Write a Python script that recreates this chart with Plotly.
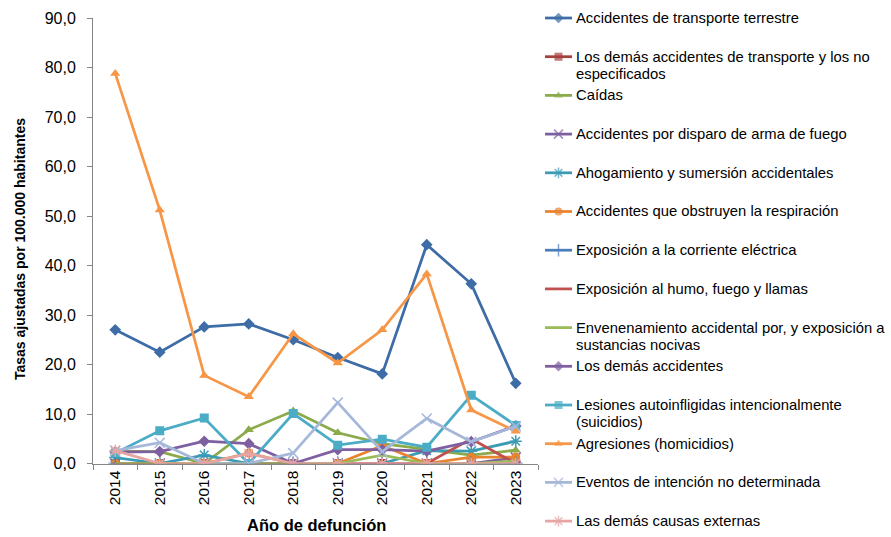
import plotly.graph_objects as go

# Años de defunción (eje de categorías)
years = ["2014", "2015", "2016", "2017", "2018", "2019", "2020", "2021", "2022", "2023"]

# Tasas ajustadas por 100.000 habitantes, por causa externa
transporte_terrestre = [27.0, 22.5, 27.6, 28.2, 25.0, 21.4, 18.1, 44.2, 36.3, 16.2]
demas_transporte = [0.0, 0.0, 0.0, 0.0, 0.0, 0.0, 0.0, 0.0, 0.0, 0.0]
caidas = [2.5, 2.4, 0.0, 6.8, 10.6, 6.2, 4.0, 2.8, 1.7, 2.7]
arma_fuego = [0.0, 0.0, 0.0, 0.0, 0.0, 0.0, 0.0, 0.0, 0.0, 1.2]
ahogamiento = [1.2, 0.0, 1.7, 0.0, 0.0, 0.0, 0.0, 2.6, 2.5, 4.5]
obstruyen_respiracion = [0.0, 0.0, 0.0, 2.1, 0.0, 0.0, 3.6, 0.0, 1.3, 1.3]
corriente_electrica = [0.0, 0.0, 0.0, 0.0, 0.0, 0.0, 0.0, 0.0, 0.0, 0.0]
humo_fuego = [0.0, 0.0, 0.0, 0.0, 0.0, 0.0, 0.0, 0.0, 5.0, 0.0]
envenenamiento = [0.0, 0.0, 0.0, 0.0, 0.0, 0.0, 1.7, 0.0, 0.0, 0.5]
demas_accidentes = [2.3, 2.4, 4.5, 4.0, 0.0, 2.8, 2.8, 2.5, 4.4, 7.6]
suicidios = [2.1, 6.6, 9.2, 0.0, 10.1, 3.7, 4.9, 3.3, 13.8, 7.7]
homicidios = [78.8, 51.2, 17.8, 13.5, 26.2, 20.3, 27.0, 38.3, 10.8, 6.5]
intencion_no_determinada = [2.6, 4.2, 0.0, 0.0, 2.1, 12.3, 2.4, 9.1, 4.4, 7.5]
demas_causas = [2.6, 0.0, 0.0, 2.0, 0.0, 0.0, 0.0, 0.0, 0.0, 0.0]

series = [
    (["Accidentes de transporte terrestre"], transporte_terrestre, "#3D6CA6", "diamond"),
    (["Los demás accidentes de transporte y los no", "especificados"], demas_transporte, "#A6403D", "square"),
    (["Caídas"], caidas, "#8BAB4B", "triangle-up"),
    (["Accidentes por disparo de arma de fuego"], arma_fuego, "#7D5FA0", "x-thin"),
    (["Ahogamiento y sumersión accidentales"], ahogamiento, "#3B9BB5", "asterisk"),
    (["Accidentes que obstruyen la respiración"], obstruyen_respiracion, "#E8832F", "circle"),
    (["Exposición a la corriente eléctrica"], corriente_electrica, "#4A7EBB", "cross-thin"),
    (["Exposición al humo, fuego y llamas"], humo_fuego, "#C0504D", None),
    (["Envenenamiento accidental por, y exposición a", "sustancias nocivas"], envenenamiento, "#9BBB59", None),
    (["Los demás accidentes"], demas_accidentes, "#7E5FA0", "diamond"),
    (["Lesiones autoinfligidas intencionalmente", "(suicidios)"], suicidios, "#4BACC6", "square"),
    (["Agresiones (homicidios)"], homicidios, "#F79646", "triangle-up"),
    (["Eventos de intención no determinada"], intencion_no_determinada, "#A6B8DA", "x-thin"),
    (["Las demás causas externas"], demas_causas, "#E6A5A3", "asterisk"),
]

W, H = 891, 537
PLOT_L, PLOT_R, PLOT_T, PLOT_B = 93, 538, 18, 463.5

# Legend layout (pixels)
LEG_X0, LEG_X1, LEG_TEXT_X = 545, 572, 574
LEG_Y0, LEG_STEP, LEG_LINE_H = 18, 38.7, 17
LEG_FONT = 14.8


def marker_style(symbol, color, size):
    thin = symbol in ("x-thin", "cross-thin", "asterisk")
    return dict(symbol=symbol, size=size + (1 if thin else 0), color=color,
                line=dict(color=color, width=1.5 if thin else 0))


fig = go.Figure()
for lines, values, color, symbol in series:
    fig.add_trace(go.Scatter(
        x=years, y=values, name=" ".join(lines),
        mode="lines" if symbol is None else "lines+markers",
        line=dict(color=color, width=2.75),
        marker=None if symbol is None else marker_style(symbol, color, 9),
        showlegend=False,
        xaxis="x", yaxis="y",
    ))

# Hand-built legend: key samples on a pixel-space overlay axis, labels as annotations
annotations = []
for i, (lines, values, color, symbol) in enumerate(series):
    yc = LEG_Y0 + i * LEG_STEP
    key_x = [LEG_X0, (LEG_X0 + LEG_X1) / 2, LEG_X1]
    key = dict(
        x=key_x, y=[yc, yc, yc],
        mode="lines" if symbol is None else "lines+markers",
        line=dict(color=color, width=2.75),
        showlegend=False, hoverinfo="skip",
        xaxis="x2", yaxis="y2",
    )
    if symbol is not None:
        m = marker_style(symbol, color, 8)
        m["size"] = [0, m["size"], 0]
        key["marker"] = m
    fig.add_trace(go.Scatter(**key))
    for j, text in enumerate(lines):
        annotations.append(dict(
            text=text, xref="paper", yref="paper",
            x=LEG_TEXT_X / W, y=1 - (yc + j * LEG_LINE_H) / H,
            xanchor="left", yanchor="middle", showarrow=False,
            font=dict(size=LEG_FONT, color="#000000"),
        ))

# Axis titles
annotations.append(dict(
    text="<b>Tasas ajustadas por 100.000 habitantes</b>", xref="paper", yref="paper",
    x=20 / W, y=1 - 249 / H, xanchor="center", yanchor="middle", textangle=-90,
    showarrow=False, font=dict(size=14, color="#000000"),
))
annotations.append(dict(
    text="<b>Año de defunción</b>", xref="paper", yref="paper",
    x=316 / W, y=1 - 525 / H, xanchor="center", yanchor="middle",
    showarrow=False, font=dict(size=16.5, color="#000000"),
))

axis_color = "#868686"
fig.update_layout(
    width=W, height=H,
    margin=dict(l=0, r=0, t=0, b=0, pad=0, autoexpand=False),
    paper_bgcolor="white", plot_bgcolor="rgba(0,0,0,0)",
    separators=",.",
    font=dict(family="Liberation Sans, Arial, sans-serif", color="#000000"),
    showlegend=False,
    annotations=annotations,
    xaxis=dict(
        domain=[PLOT_L / W, PLOT_R / W], anchor="y",
        type="category", automargin=False,
        range=[-0.5, len(years) - 0.5],
        showline=True, linecolor=axis_color, linewidth=1,
        ticks="outside", tickson="boundaries", ticklen=5, tickcolor=axis_color,
        tickangle=-90,
        tickfont=dict(size=15.5),
        showgrid=False, zeroline=False,
    ),
    yaxis=dict(
        domain=[1 - PLOT_B / H, 1 - PLOT_T / H], anchor="x", automargin=False,
        range=[0, 90], dtick=10, tickformat=".1f",
        showline=True, linecolor=axis_color, linewidth=1,
        ticks="outside", ticklen=5, tickcolor=axis_color,
        tickfont=dict(size=16), ticklabelstandoff=8,
        showgrid=False, zeroline=False,
    ),
    xaxis2=dict(domain=[0, 1], range=[0, W], visible=False, anchor="y2",
                fixedrange=True, automargin=False),
    yaxis2=dict(domain=[0, 1], range=[H, 0], visible=False, anchor="x2",
                fixedrange=True, automargin=False),
)

fig.write_html("out.html")
